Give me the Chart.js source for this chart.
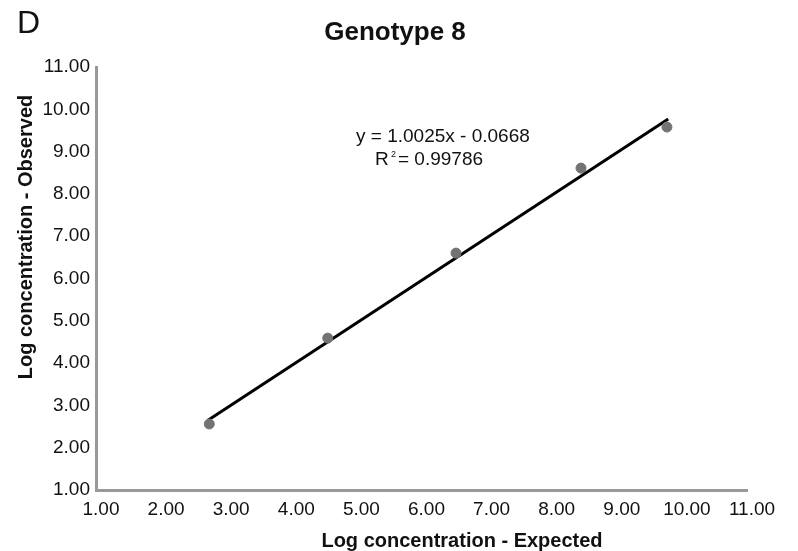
<!DOCTYPE html>
<html>
<head>
<meta charset="utf-8">
<script src="https://cdn.jsdelivr.net/npm/chart.js@4/dist/chart.umd.min.js"></script>
<style>
  html, body { margin: 0; padding: 0; background: #fff; }
  #wrap { width: 798px; height: 551px; }
</style>
</head>
<body>
<div id="wrap"><canvas id="chart"></canvas></div>
<script>
const expected = [2.74, 4.56, 6.53, 8.45, 9.77];
const observed = [2.56, 4.59, 6.60, 8.61, 9.58];
const trendX = [2.72, 9.79];
const trendY = [2.65, 9.77];
const axisMin = 1;
const axisMax = 11;
const titleText = 'Genotype 8';
const equationText = 'y = 1.0025x - 0.0668';
const r2Text = '= 0.99786';

const FONT = '"Liberation Sans", Arial, sans-serif';

function toPoints(xs, ys) {
  const pts = [];
  for (let i = 0; i < xs.length; i++) {
    pts.push({x: xs[i], y: ys[i]});
  }
  return pts;
}

// extra text: panel letter, title, axis titles, equation
const labelsPlugin = {
  id: 'labels',
  afterDraw(chart) {
    const ctx = chart.ctx;
    ctx.save();
    ctx.fillStyle = '#111';
    ctx.textBaseline = 'alphabetic';

    ctx.font = '32px ' + FONT;
    ctx.textAlign = 'left';
    ctx.fillText('D', 17, 33);

    ctx.font = 'bold 26px ' + FONT;
    ctx.textAlign = 'center';
    ctx.fillText(titleText, 395, 40);

    ctx.font = 'bold 20px ' + FONT;
    ctx.fillText('Log concentration - Expected', 462, 547);

    ctx.save();
    ctx.translate(32, 237);
    ctx.rotate(-Math.PI / 2);
    ctx.fillText('Log concentration - Observed', 0, 0);
    ctx.restore();

    ctx.font = '19px ' + FONT;
    ctx.textAlign = 'left';
    ctx.fillText(equationText, 356, 142);
    ctx.fillText('R', 375, 165);
    ctx.font = '9px ' + FONT;
    ctx.fillText('2', 391, 157);
    ctx.font = '19px ' + FONT;
    ctx.fillText(r2Text, 398, 165);
    ctx.restore();
  }
};

const config = {
  type: 'scatter',
  data: {
    datasets: [{
      label: 'Observed',
      data: toPoints(expected, observed),
      backgroundColor: '#737373',
      borderColor: '#737373',
      pointRadius: 5,
      pointHoverRadius: 5
    }, {
      label: 'Trend',
      data: toPoints(trendX, trendY),
      showLine: true,
      borderColor: '#000',
      borderWidth: 3,
      pointRadius: 0
    }]
  },
  options: {
    responsive: true,
    maintainAspectRatio: false,
    animation: false,
    layout: { padding: { top: 67, right: 51, bottom: 0, left: 0 } },
    plugins: {
      legend: { display: false },
      tooltip: { enabled: false }
    },
    scales: {
      x: {
        type: 'linear',
        min: axisMin,
        max: axisMax,
        grid: { display: false, drawTicks: false },
        border: { color: '#999', width: 3 },
        ticks: {
          stepSize: 1,
          padding: 8,
          labelOffset: 5,
          color: '#111',
          font: { family: FONT, size: 19 },
          maxRotation: 0,
          callback: v => v.toFixed(2)
        },
        afterFit(scale) { scale.height = 61; }
      },
      y: {
        type: 'linear',
        min: axisMin,
        max: axisMax,
        grid: { display: false, drawTicks: false },
        border: { color: '#999', width: 3 },
        ticks: {
          stepSize: 1,
          padding: 6,
          color: '#111',
          font: { family: FONT, size: 19 },
          callback: v => v.toFixed(2)
        },
        afterFit(scale) { scale.width = 96; }
      }
    }
  },
  plugins: [labelsPlugin]
};

const myChart = new Chart(document.getElementById('chart'), config);
</script>
</body>
</html>
